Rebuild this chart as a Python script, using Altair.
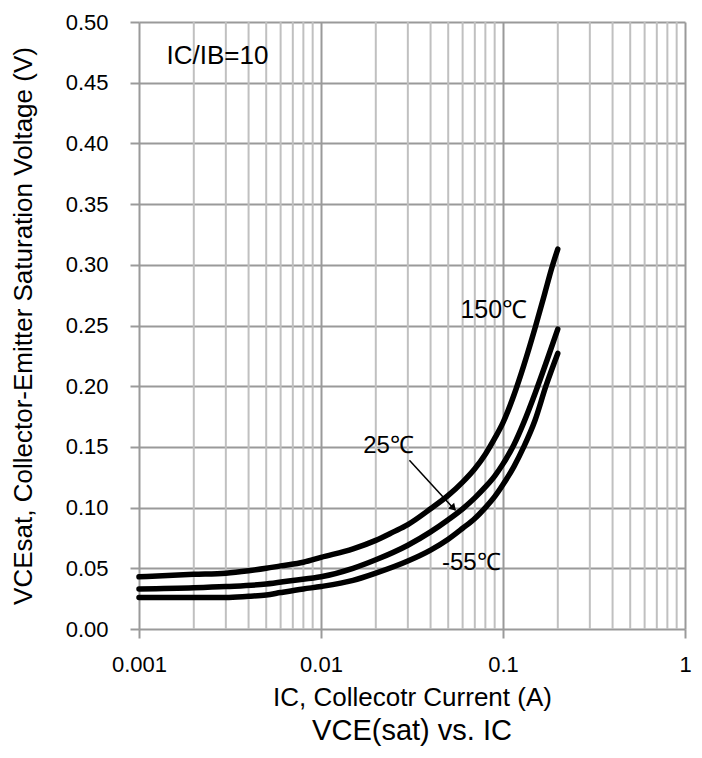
import altair as alt
import pandas as pd

# ---- data ----
ic_150 = [0.001, 0.002, 0.003, 0.004, 0.005, 0.006, 0.008, 0.01, 0.015, 0.02, 0.025, 0.03,
          0.04, 0.05, 0.06, 0.07, 0.08, 0.09, 0.1, 0.115, 0.13, 0.15, 0.17, 0.185, 0.2]
vce_150 = [0.043, 0.045, 0.046, 0.048, 0.050, 0.052, 0.055, 0.059, 0.066, 0.073, 0.080, 0.086,
           0.099, 0.110, 0.121, 0.132, 0.144, 0.157, 0.170, 0.193, 0.217, 0.248, 0.277, 0.297,
           0.313]

ic_25 = [0.001, 0.002, 0.003, 0.005, 0.007, 0.01, 0.015, 0.02, 0.03, 0.04, 0.05, 0.06,
         0.07, 0.08, 0.09, 0.1, 0.115, 0.13, 0.15, 0.175, 0.2]
vce_25 = [0.033, 0.034, 0.035, 0.037, 0.040, 0.043, 0.050, 0.057, 0.069, 0.080, 0.090, 0.099,
          0.108, 0.117, 0.126, 0.136, 0.152, 0.170, 0.194, 0.222, 0.247]

ic_m55 = [0.001, 0.002, 0.003, 0.004, 0.005, 0.006, 0.008, 0.01, 0.015, 0.02, 0.03, 0.04,
          0.05, 0.06, 0.07, 0.08, 0.09, 0.1, 0.115, 0.13, 0.15, 0.172, 0.2]
vce_m55 = [0.026, 0.026, 0.026, 0.027, 0.028, 0.030, 0.033, 0.035, 0.040, 0.046, 0.056, 0.065,
           0.074, 0.083, 0.091, 0.100, 0.109, 0.119, 0.134, 0.150, 0.172, 0.200, 0.227]

x_major = [0.001, 0.01, 0.1, 1]
x_minor = [m * d for d in [0.001, 0.01, 0.1] for m in range(2, 10)]
y_ticks = [0.0, 0.05, 0.10, 0.15, 0.20, 0.25, 0.30, 0.35, 0.40, 0.45, 0.50]

label_text = ["IC/IB=10", "150℃", "25℃", "-55℃"]
label_x = [0.0027, 0.089, 0.0235, 0.067]
label_y = [0.472, 0.263, 0.151, 0.054]
label_size = [26, 25, 24, 24]

arrow_x = [0.0306]
arrow_y = [0.139]
arrow_x2 = [0.0545]
arrow_y2 = [0.098]
arrow_head_x = [0.0535]
arrow_head_y = [0.0995]

# ---- tables ----
curves = pd.concat([
    pd.DataFrame({"ic": ic_150, "v": vce_150, "s": "150"}),
    pd.DataFrame({"ic": ic_25, "v": vce_25, "s": "25"}),
    pd.DataFrame({"ic": ic_m55, "v": vce_m55, "s": "-55"}),
])
minor_df = pd.DataFrame({"ic": x_minor})
labels_df = pd.DataFrame({"t": label_text, "ic": label_x, "v": label_y, "fs": label_size})
arrow_df = pd.DataFrame({"ic": arrow_x, "v": arrow_y, "ic2": arrow_x2, "v2": arrow_y2})
head_df = pd.DataFrame({"ic": arrow_head_x, "v": arrow_head_y})

FONT = "Liberation Sans"
MAJOR = "#9a9a9a"
MINOR = "#c0c0c0"

xscale = alt.Scale(type="log", domain=[0.001, 1], nice=False)
yscale = alt.Scale(domain=[0, 0.5], nice=False, zero=True)

xaxis = alt.Axis(values=x_major, title="IC, Collecotr Current (A)",
                 labelExpr="datum.value >= 1 ? '1' : format(datum.value, '~g')",
                 grid=True, gridColor=MAJOR, gridWidth=2, ticks=True, tickColor=MAJOR,
                 tickWidth=2, tickSize=9, domain=False, labelFontSize=22, titleFontSize=26,
                 labelPadding=16, titlePadding=9, labelFont=FONT, titleFont=FONT,
                 labelColor="black", titleColor="black", titleFontWeight="normal",
                 labelFlush=False)
yaxis = alt.Axis(values=y_ticks, format=".2f",
                 title="VCEsat, Collector-Emitter Saturation Voltage (V)",
                 grid=True, gridColor=MAJOR, gridWidth=2, ticks=True, tickColor=MAJOR,
                 tickWidth=2, tickSize=9, domain=False, labelFontSize=22, titleFontSize=26,
                 labelPadding=22, titlePadding=29, labelFont=FONT, titleFont=FONT,
                 labelColor="black", titleColor="black", titleFontWeight="normal",
                 labelFlush=False)

X = alt.X("ic:Q", scale=xscale, axis=xaxis)
Y = alt.Y("v:Q", scale=yscale, axis=yaxis)

minor = alt.Chart(minor_df).mark_rule(color=MINOR, strokeWidth=2).encode(x=X)

lines = alt.Chart(curves).mark_line(color="black", strokeWidth=5.5, interpolate="monotone",
                                    strokeCap="round").encode(
    x=X, y=Y, detail="s:N")

texts = alt.Chart(labels_df).mark_text(font=FONT, color="black", align="center",
                                        baseline="middle").encode(
    x=X, y=Y, text="t:N", size=alt.Size("fs:Q", scale=None, legend=None))

arrow = alt.Chart(arrow_df).mark_rule(color="black", strokeWidth=1.5).encode(
    x=X, y=Y, x2="ic2:Q", y2="v2:Q")

head = alt.Chart(head_df).mark_point(shape="triangle-up", angle=137, size=70, filled=True,
                                      color="black", opacity=1).encode(x=X, y=Y)

chart = alt.layer(minor, lines, arrow, head, texts).properties(
    width=546, height=607,
    padding={"left": 131, "top": 14, "right": 9, "bottom": 119},
    autosize=alt.AutoSizeParams(type="none"),
    title=alt.TitleParams("VCE(sat) vs. IC", orient="bottom", anchor="middle",
                          fontSize=29, font=FONT, fontWeight="normal", color="black",
                          offset=7),
).configure_view(stroke="transparent")

chart.save("out.html", embed_options={"renderer": "svg", "actions": False})
